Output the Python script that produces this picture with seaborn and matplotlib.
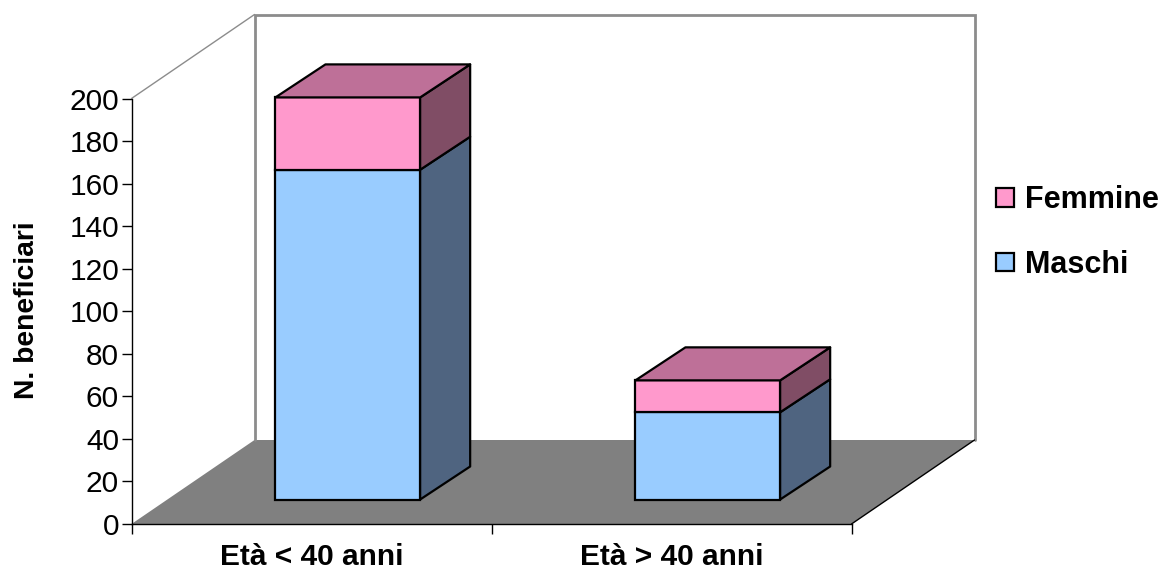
import matplotlib
matplotlib.use("Agg")
import matplotlib.pyplot as plt
import numpy as np
import pandas as pd
import seaborn as sns
from matplotlib.lines import Line2D
from matplotlib.patches import Patch, Polygon
from matplotlib.transforms import Affine2D, IdentityTransform

categories = ["Età < 40 anni", "Età > 40 anni"]
maschi = [155, 41]
femmine = [34, 15]
y_ticks = list(range(0, 201, 20))
series_names = ["Maschi", "Femmine"]

C_M, C_F = "#99CCFF", "#FF99CC"
C_M_SIDE, C_F_SIDE = "#4F6480", "#804D65"
C_F_TOP = "#BE7098"
C_FLOOR = "#808080"
C_WALL = "#8C8C8C"

sns.set_theme(style="white")
plt.rcParams["font.family"] = ["Liberation Sans", "DejaVu Sans"]

W, H = 1161, 570
fig = plt.figure(figsize=(W / 100, H / 100), dpi=100)
ax = fig.add_axes([131.5 / W, (H - 524) / H, 720 / W, 425.5 / H])
ax.patch.set_visible(False)

df = pd.DataFrame({"cat": categories, "Maschi": maschi, "Femmine": femmine})
edge = dict(edgecolor="black", linewidth=1.6, saturation=1, width=0.402, order=categories, zorder=5)
sns.barplot(data=df, x="cat", y="Maschi", color=C_M, ax=ax, **edge)
sns.barplot(data=df, x="cat", y="Femmine", bottom=df["Maschi"].values, color=C_F, ax=ax, **edge)

ax.set_xlim(-0.5, 1.5)
ax.set_ylim(0, 200)
ax.set_yticks(y_ticks)
ax.set_xticks([0, 1])
ax.set_xticklabels(categories, fontsize=21.5, fontweight="bold", color="black")
ax.set_xticks([-0.5, 0.5, 1.5], minor=True)
ax.tick_params(axis="x", which="major", length=0, pad=14)
ax.tick_params(axis="x", which="minor", length=7, width=1, color="black", direction="out", bottom=True)
ax.tick_params(axis="y", length=7, width=1, color="black", direction="out", left=True, labelsize=21.5, pad=2, labelcolor="black")
ax.set_xlabel("")
ax.set_ylabel("N. beneficiari", fontsize=20.3, fontweight="bold", color="black")
ax.yaxis.set_label_coords(40 / W, (H - 310) / H, transform=fig.transFigure)
for s in ("top", "right"):
    ax.spines[s].set_visible(False)
for s in ("left", "bottom"):
    ax.spines[s].set_color("black")
    ax.spines[s].set_linewidth(1.0)
    ax.spines[s].set_zorder(4)

# Oblique projection, in display pixels
WALL = np.array([123.0, 84.0])
BAR_SHIFT = np.array([36.3, 24.5])
BAR_DEPTH = np.array([50.0, 33.0])


def disp(x, y, off=(0, 0)):
    return ax.transData.transform((x, y)) + np.asarray(off)


def poly(pts, fc, z, ec="none", lw=0):
    ax.add_patch(Polygon(np.array(pts), closed=True, facecolor=fc, edgecolor=ec, linewidth=lw,
                         transform=IdentityTransform(), zorder=z, clip_on=False, joinstyle="round"))


def line(pts, color, lw, z=2):
    pts = np.array(pts)
    ax.add_line(Line2D(pts[:, 0], pts[:, 1], color=color, lw=lw, transform=IdentityTransform(),
                       zorder=z, clip_on=False, solid_joinstyle="miter"))


x0, x1 = ax.get_xlim()
y0, y1 = ax.get_ylim()
poly([disp(x0, y0), disp(x1, y0), disp(x1, y0, WALL), disp(x0, y0, WALL)], C_FLOOR, 1)
line([disp(x0, y0, WALL), disp(x0, y1, WALL), disp(x1, y1, WALL), disp(x1, y0, WALL)], C_WALL, 2.0)
line([disp(x0, y1), disp(x0, y1, WALL)], C_WALL, 1.0)
line([disp(x1, y0), disp(x1, y0, WALL)], "black", 1.0, 3)

shift = Affine2D().translate(*BAR_SHIFT)
bars = [b for b in ax.patches if b.get_zorder() == 5]
n = len(categories)
for i, (bm, bf) in enumerate(zip(bars[:n], bars[n:])):
    for b, side in ((bm, C_M_SIDE), (bf, C_F_SIDE)):
        b.set_transform(ax.transData + shift)
        b.set_clip_on(False)
        xr = b.get_x() + b.get_width()
        a = disp(xr, b.get_y(), BAR_SHIFT)
        c = disp(xr, b.get_y() + b.get_height(), BAR_SHIFT)
        poly([a, c, c + BAR_DEPTH, a + BAR_DEPTH], side, 6, "black", 1.6)
    xl = bf.get_x()
    xr = xl + bf.get_width()
    top = bf.get_y() + bf.get_height()
    p, q = disp(xl, top, BAR_SHIFT), disp(xr, top, BAR_SHIFT)
    poly([p, q, q + BAR_DEPTH, p + BAR_DEPTH], C_F_TOP, 6, "black", 1.6)

handles = [Patch(facecolor=C_F, edgecolor="black", linewidth=1.6, label=series_names[1]),
           Patch(facecolor=C_M, edgecolor="black", linewidth=1.6, label=series_names[0])]
fig.legend(handles=handles, loc="upper left", bbox_to_anchor=(987 / W, (H - 176) / H), frameon=False,
           prop={"family": "Liberation Sans", "weight": "bold", "size": 22},
           labelcolor="black",
           handlelength=0.58, handleheight=0.55, handletextpad=0.36, labelspacing=1.14, borderpad=0.3, borderaxespad=0)

fig.savefig("out.png", dpi=100, facecolor="white")
